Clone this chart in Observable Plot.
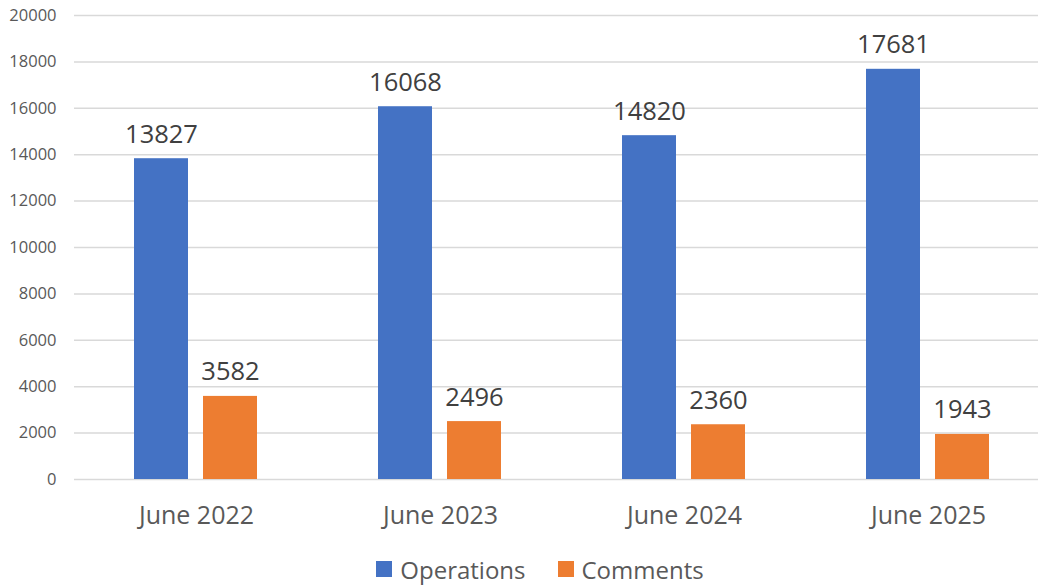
<!DOCTYPE html>
<html>
<head>
<meta charset="utf-8">
<script src="https://cdn.jsdelivr.net/npm/d3@7"></script>
<script src="https://cdn.jsdelivr.net/npm/@observablehq/plot@0.6"></script>
<style>
  html, body { margin: 0; padding: 0; background: #fff; }
  #chart { width: 1038px; overflow: hidden; }
  #legend { width: 1038px; height: 42px; box-sizing: border-box; padding-left: 42px; padding-top: 6px;
    display: flex; justify-content: center; align-items: center; gap: 32px;
    font-family: "Open Sans", sans-serif; font-size: 24px; color: #595959; }
  .item { display: flex; align-items: center; gap: 8px; }
  .sw { width: 16px; height: 16px; display: inline-block; }
</style>
</head>
<body>
<div id="chart"></div>
<div id="legend"></div>
<script>
const categories = ["June 2022", "June 2023", "June 2024", "June 2025"];
const series = ["Operations", "Comments"];
const operations = [13827, 16068, 14820, 17681];
const comments = [3582, 2496, 2360, 1943];
const colors = ["#4472C4", "#ED7D31"];
const yTicks = [0, 2000, 4000, 6000, 8000, 10000, 12000, 14000, 16000, 18000, 20000];

const data = categories.flatMap((c, i) => [
  {cat: c, series: "Operations", value: operations[i]},
  {cat: c, series: "Comments", value: comments[i]}
]);

const chart = Plot.plot({
  width: 1038,
  height: 545,
  marginLeft: 74,
  marginRight: 0,
  marginTop: 15,
  marginBottom: 66,
  style: {fontFamily: "'Open Sans', sans-serif", background: "white", overflow: "hidden"},
  fx: {domain: categories, range: [74, 1050], padding: 0, label: null},
  x: {domain: series, paddingInner: 0.214, paddingOuter: 0.857, axis: null},
  y: {domain: [0, 20000], label: null},
  color: {domain: series, range: colors},
  marks: [
    Plot.ruleY(yTicks, {stroke: "#d9d9d9", strokeWidth: 1.5}),
    Plot.axisY(yTicks, {tickSize: 0, tickPadding: 18, fontSize: 16.5, fill: "#595959", tickFormat: "d", label: null}),
    Plot.axisFx({anchor: "bottom", tickSize: 0, tickPadding: 27, fontSize: 25, fill: "#595959", label: null}),
    Plot.barY(data, {fx: "cat", x: "series", y: "value", fill: "series"}),
    Plot.text(data, {fx: "cat", x: "series", y: "value", text: d => String(d.value),
      lineAnchor: "bottom", dy: -16, fontSize: 25.5, fill: "#404040"})
  ]
});
document.getElementById("chart").appendChild(chart);

const legend = document.getElementById("legend");
series.forEach((s, i) => {
  const item = document.createElement("div");
  item.className = "item";
  const sw = document.createElement("span");
  sw.className = "sw";
  sw.style.background = colors[i];
  const label = document.createElement("span");
  label.textContent = s;
  item.appendChild(sw);
  item.appendChild(label);
  legend.appendChild(item);
});
</script>
</body>
</html>
